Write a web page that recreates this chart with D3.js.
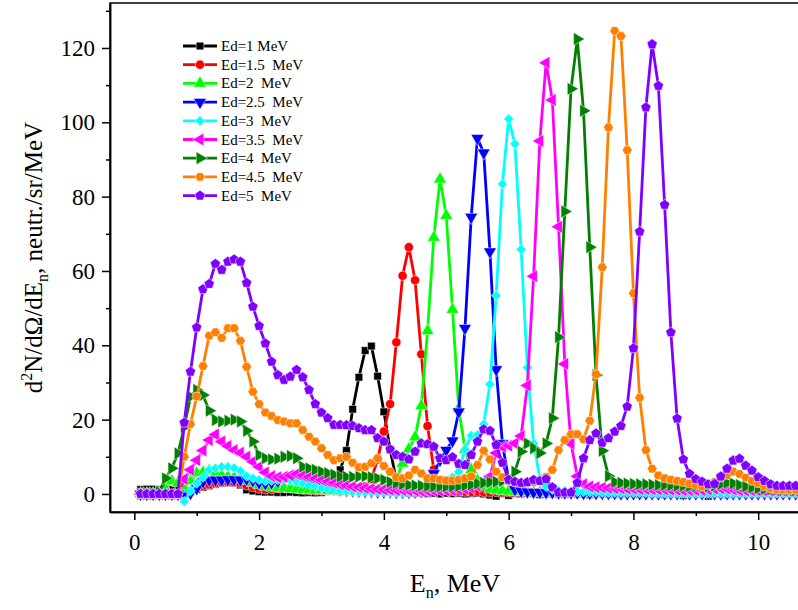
<!DOCTYPE html>
<html>
<head>
<meta charset="utf-8">
<script src="https://cdn.jsdelivr.net/npm/d3@7"></script>
<style>
  body { margin: 0; background: #fff; }
  text { font-family: "Liberation Serif", "Times New Roman", Times, serif; }
</style>
</head>
<body>
<div id="chart"></div>
<script>
// #########################################################
// DATA, neutron energy grid in MeV
// #########################################################
var energy = [0.1,0.2,0.3,0.4,0.5,0.6,0.7,0.8,0.9,1.0,
  1.1,1.2,1.3,1.4,1.5,1.6,1.7,1.8,1.9,2.0,
  2.1,2.2,2.3,2.4,2.5,2.6,2.7,2.8,2.9,3.0,
  3.1,3.2,3.3,3.4,3.5,3.6,3.7,3.8,3.9,4.0,
  4.1,4.2,4.3,4.4,4.5,4.6,4.7,4.8,4.9,5.0,
  5.1,5.2,5.3,5.4,5.5,5.6,5.7,5.8,5.9,6.0,
  6.1,6.2,6.3,6.4,6.5,6.6,6.7,6.8,6.9,7.0,
  7.1,7.2,7.3,7.4,7.5,7.6,7.7,7.8,7.9,8.0,
  8.1,8.2,8.3,8.4,8.5,8.6,8.7,8.8,8.9,9.0,
  9.1,9.2,9.3,9.4,9.5,9.6,9.7,9.8,9.9,10.0,
  10.1,10.2,10.3,10.4,10.5,10.6];

var ed1 = [1.2,1.3,1.3,1.2,1.3,1.2,1.3,0.2,0.6,1.2,
  1.8,2.2,2.6,2.9,3.0,3.0,2.4,1.1,0.8,0.6,
  0.5,0.5,0.4,0.4,0.5,0.4,0.3,0.4,0.3,0.4,
  0.8,2.5,6.5,11.7,22.8,31.4,38.6,39.8,31.7,22.1,
  12.0,3.6,0.8,0.3,0.2,0.3,0.1,0.2,0.0,0.2,
  0.1,0.2,0.0,0.1,0.2,0.0,-0.3,-0.6,0.1,-0.4,
  0.1,0.0,0.2,0.1,-0.2,0.0,0.1,0.0,-0.1,0.1,
  0.0,0.1,-0.2,0.0,0.1,0.0,-0.1,0.1,0.0,0.1,
  -0.1,0.0,0.2,0.0,-0.2,0.1,0.0,-0.4,0.0,0.1,
  0.0,-0.6,0.0,0.1,-0.2,0.0,0.1,0.0,-0.1,0.0,
  0.1,0.0,-0.1,0.0,0.1,0.0];

var ed15 = [0.0,0.0,0.0,0.0,0.0,0.0,0.0,-0.3,0.8,1.6,
  2.2,2.6,2.9,3.1,3.2,3.1,2.8,2.3,1.8,1.4,
  1.2,1.3,1.5,1.6,1.5,1.3,1.1,1.0,0.9,0.9,
  0.8,0.8,0.7,0.8,0.9,1.2,2.0,4.0,9.3,16.8,
  24.2,40.8,58.7,66.4,57.5,37.6,18.3,6.6,2.0,1.0,
  0.8,0.7,0.6,0.5,0.6,0.5,0.4,0.5,0.4,0.4,
  0.4,0.3,0.4,0.3,0.3,0.2,0.3,0.3,0.2,0.3,
  0.3,0.2,0.3,0.2,0.2,0.3,0.2,0.2,0.1,0.2,
  0.2,0.1,0.2,0.2,0.1,0.2,0.1,0.1,0.2,0.1,
  0.1,0.1,0.2,0.1,0.1,0.1,0.2,0.1,0.1,0.1,
  0.1,0.1,0.1,0.1,0.1,0.1];

var ed2 = [0.0,0.0,0.0,0.2,1.5,3.5,3.0,1.5,3.5,5.6,
  5.8,6.3,5.5,5.0,4.6,4.4,4.0,3.6,3.0,2.5,
  2.0,1.8,1.6,1.5,1.4,1.3,1.2,1.1,1.0,1.0,
  0.9,0.9,0.8,0.8,0.8,0.8,0.8,0.9,1.0,1.2,
  2.0,4.0,8.2,12.1,15.3,23.7,43.9,69.0,84.7,74.9,
  49.6,23.0,12.0,6.5,3.6,2.0,1.3,1.0,0.8,0.7,
  0.6,0.6,0.5,0.5,0.4,0.4,0.4,0.3,0.3,0.3,
  0.3,0.3,0.2,0.3,0.2,0.2,0.2,0.2,0.2,0.2,
  0.2,0.2,0.1,0.2,0.1,0.1,0.2,0.1,0.1,0.1,
  0.1,0.1,0.1,0.1,0.1,0.1,0.1,0.1,0.1,0.1,
  0.1,0.1,0.1,0.1,0.1,0.1];

var ed25 = [0.0,0.0,0.0,0.0,0.0,0.0,0.0,-0.5,0.2,1.5,
  3.3,3.8,3.8,3.8,3.9,3.9,3.8,4.0,3.6,3.0,
  2.8,3.0,3.5,4.2,4.8,5.0,4.5,3.6,2.8,2.2,
  1.8,1.5,1.2,1.0,0.9,0.8,0.7,0.7,0.6,0.6,
  0.6,0.5,0.5,0.5,0.6,0.7,1.0,5.5,9.1,11.8,
  14.3,22.1,44.6,74.5,95.7,91.8,65.2,33.5,13.6,3.8,
  1.2,0.8,0.6,0.5,0.5,0.4,0.4,0.3,0.3,0.3,
  0.3,0.2,0.2,0.2,0.2,0.2,0.2,0.1,0.1,0.1,
  0.1,0.1,0.1,0.1,0.1,0.1,0.1,0.1,0.1,0.1,
  0.1,0.1,0.1,0.1,0.1,0.1,0.1,0.1,0.1,0.1,
  0.1,0.1,0.1,0.1,0.1,0.1];

var ed3 = [0.0,0.0,0.0,0.0,0.0,0.0,0.0,-2.0,0.8,2.9,
  4.5,6.5,6.9,7.3,7.3,7.0,6.2,4.8,4.2,3.8,
  3.5,3.6,3.8,4.0,3.6,3.2,2.8,2.4,2.0,1.6,
  1.3,1.1,0.9,0.8,0.7,0.6,0.6,0.5,0.5,0.5,
  0.4,0.4,0.4,0.4,0.5,0.6,0.7,0.9,1.5,3.0,
  4.5,6.0,12.0,15.7,15.9,18.8,29.5,53.4,83.4,100.9,
  94.2,65.8,34.0,13.6,4.2,2.0,1.2,0.9,0.8,0.7,
  0.6,0.6,0.5,0.5,0.4,0.4,0.4,0.3,0.3,0.3,
  0.3,0.3,0.2,0.2,0.2,0.2,0.2,0.2,0.2,0.2,
  0.2,0.2,0.2,0.2,0.2,0.2,0.2,0.2,0.2,0.2,
  0.2,0.2,0.2,0.2,0.2,0.2];

var ed35 = [0.0,0.0,0.0,0.0,0.0,0.0,0.0,4.0,6.5,9.1,
  11.7,14.5,16.0,14.1,12.9,11.8,11.1,10.0,8.7,7.3,
  5.8,4.8,4.5,4.6,5.0,5.4,5.0,4.6,4.2,3.8,
  3.4,3.0,2.6,2.3,2.0,1.8,1.6,1.4,1.3,1.2,
  1.1,1.0,1.0,0.9,0.9,0.8,0.8,0.8,0.8,0.9,
  1.0,1.1,1.3,1.6,2.2,3.2,4.7,11.0,12.7,13.0,
  13.6,15.6,29.2,58.6,95.0,116.0,106.0,71.9,35.0,13.5,
  4.8,2.6,2.0,1.8,1.7,1.6,1.5,1.5,1.4,1.4,
  1.3,1.3,1.2,1.2,1.2,1.1,1.1,1.0,1.0,1.0,
  1.0,1.2,1.4,1.5,1.4,1.2,1.0,0.9,0.9,0.8,
  0.8,0.8,0.7,0.7,0.7,0.7];

var ed4 = [0.0,0.0,0.0,0.5,4.2,6.9,10.9,18.0,26.2,28.0,
  26.6,22.4,19.9,19.5,19.7,20.0,19.5,17.0,14.1,10.5,
  9.6,9.3,9.5,10.0,10.2,9.6,7.3,6.9,6.5,6.0,
  5.6,5.2,4.7,4.6,4.6,4.7,4.8,4.5,4.2,3.8,
  3.2,2.9,2.6,2.4,2.3,2.2,2.1,2.0,2.0,2.0,
  2.0,2.1,2.3,2.5,2.8,3.0,3.2,3.3,3.5,4.2,
  6.0,11.4,13.6,12.3,11.0,13.6,20.4,42.2,76.0,109.0,
  122.4,103.1,66.4,32.0,11.6,4.8,3.2,3.0,2.8,2.7,
  2.6,2.6,2.5,2.4,2.4,2.3,2.2,2.2,2.1,2.1,
  2.0,2.0,2.2,2.6,3.0,2.8,2.4,2.0,1.7,1.5,
  1.3,1.2,1.1,1.0,1.0,0.9];

var ed45 = [0.0,0.0,0.0,0.0,0.0,0.0,0.0,10.0,18.8,26.2,
  34.4,42.6,43.5,42.0,44.6,44.6,41.2,34.2,27.5,24.2,
  21.9,21.0,19.9,19.5,19.0,19.0,17.2,15.4,14.1,12.3,
  10.5,9.1,9.6,10.0,8.4,7.2,7.3,8.3,9.6,7.5,
  6.0,4.5,4.2,5.0,6.5,5.5,4.2,4.2,3.8,3.6,
  3.6,3.8,4.2,4.7,7.8,11.6,9.3,6.0,4.5,3.5,
  3.2,3.0,3.0,3.2,3.6,4.6,6.5,11.8,14.5,16.1,
  16.1,14.7,19.7,32.2,61.0,98.6,124.6,123.2,92.5,54.0,
  25.9,11.8,6.8,5.0,4.2,3.8,3.5,3.2,2.8,2.4,
  2.0,2.4,3.2,4.4,5.1,6.0,5.4,4.4,3.5,2.9,
  2.0,1.5,1.2,1.1,1.1,1.1];

var ed5 = [0.0,0.0,0.0,0.0,0.0,0.0,0.0,19.2,32.9,44.8,
  55.1,56.5,61.9,60.3,62.5,63.1,62.5,56.8,50.4,45.2,
  40.5,35.6,32.0,30.7,31.6,33.4,31.4,28.0,24.2,21.9,
  20.4,18.6,18.6,18.5,18.3,17.7,17.2,17.2,15.0,14.1,
  12.0,10.5,10.0,9.3,11.4,13.6,13.4,12.7,9.6,9.1,
  9.9,8.1,7.8,10.5,14.1,17.4,17.0,13.2,8.4,3.8,
  3.3,3.0,3.2,3.8,3.5,4.0,1.8,0.4,0.4,0.4,
  3.0,9.6,14.5,16.3,13.8,15.0,16.8,18.3,23.5,39.2,
  70.6,104.0,121.0,109.8,77.8,43.5,20.3,9.3,5.4,4.0,
  3.3,2.6,2.7,4.7,6.8,9.0,9.5,7.6,6.3,4.5,
  3.5,2.6,2.2,2.2,2.2,2.2];

var seriesLabels = ["Ed=1 MeV", "Ed=1.5  MeV", "Ed=2  MeV", "Ed=2.5  MeV", "Ed=3  MeV",
                    "Ed=3.5  MeV", "Ed=4  MeV", "Ed=4.5  MeV", "Ed=5  MeV"];
var seriesValues = [ed1, ed15, ed2, ed25, ed3, ed35, ed4, ed45, ed5];

var xTicks = [0, 2, 4, 6, 8, 10];
var xMinorTicks = [1, 3, 5, 7, 9];
var yTicks = [0, 20, 40, 60, 80, 100, 120];
var yMinorTicks = [10, 30, 50, 70, 90, 110, 130];

// styles: colour and marker kind per series
var colors = ["#000000", "#ff0000", "#00ff00", "#0000ff", "#00ffff",
              "#ff00ff", "#008000", "#ff8000", "#8000ff"];
var markers = ["square", "circle", "up", "down", "diamond", "left", "right", "hexagon", "pentagon"];

// #########################################################
// PART I. SVG CANVAS
// #########################################################
var W = 798, H = 610;
var plot = {left: 110, right: 800, top: 3, bottom: 512};
var serif = "'Liberation Serif', 'Times New Roman', Times, serif";

var svg = d3.select("#chart")
  .append("svg")
    .attr("width", W)
    .attr("height", H);

var xScale = d3.scaleLinear()
    .domain([-0.39, 10.67])
    .range([plot.left, plot.right]);

var yScale = d3.scaleLinear()
    .domain([-4.85, 132.1])
    .range([plot.bottom, plot.top]);

svg.append("defs").append("clipPath")
    .attr("id", "plotClip")
  .append("rect")
    .attr("x", plot.left)
    .attr("y", plot.top)
    .attr("width", plot.right - plot.left)
    .attr("height", plot.bottom - plot.top);

// #########################################################
// PART II. MARKERS
// #########################################################
function polygon(n, r, rot) {
  var pts = d3.range(n).map(function(i) {
    var a = rot + i * 2 * Math.PI / n;
    return [r * Math.cos(a), r * Math.sin(a)];
  });
  return "M" + pts.map(function(p) { return p[0].toFixed(2) + "," + p[1].toFixed(2); }).join("L") + "Z";
}

var triPath = d3.symbol().type(d3.symbolTriangle).size(72)();
var markerDefs = {
  square:   {d: d3.symbol().type(d3.symbolSquare).size(58)(), rot: 0},
  circle:   {d: d3.symbol().type(d3.symbolCircle).size(66)(), rot: 0},
  up:       {d: triPath, rot: 0},
  down:     {d: triPath, rot: 180},
  left:     {d: triPath, rot: -90},
  right:    {d: triPath, rot: 90},
  diamond:  {d: d3.symbol().type(d3.symbolSquare).size(50)(), rot: 45},
  hexagon:  {d: polygon(6, 4.9, 0), rot: 0},
  pentagon: {d: polygon(5, 5.4, -Math.PI / 2), rot: 0}
};

function drawMarker(g, kind, color, cx, cy) {
  var m = markerDefs[kind];
  g.append("path")
    .attr("d", m.d)
    .attr("transform", "translate(" + cx + "," + cy + ") rotate(" + m.rot + ")")
    .attr("fill", color)
    .attr("stroke", "#fff")
    .attr("stroke-width", 0.5);
}

// #########################################################
// PART III. SERIES
// #########################################################
var line = d3.line()
    .x(function(d) { return xScale(d[0]); })
    .y(function(d) { return yScale(d[1]); });

var plotArea = svg.append("g").attr("clip-path", "url(#plotClip)");

seriesValues.forEach(function(vals, i) {
  var pts = energy.map(function(e, k) { return [e, vals[k]]; });
  var g = plotArea.append("g");
  g.append("path")
    .datum(pts)
    .attr("d", line)
    .attr("fill", "none")
    .attr("stroke", colors[i])
    .attr("stroke-width", 2.8)
    .attr("stroke-linejoin", "round");
  pts.forEach(function(p) {
    drawMarker(g, markers[i], colors[i], xScale(p[0]), yScale(p[1]));
  });
});

// #########################################################
// PART IV. AXES AND FRAME
// #########################################################
svg.append("rect")
    .attr("x", plot.left)
    .attr("y", plot.top)
    .attr("width", plot.right - plot.left)
    .attr("height", plot.bottom - plot.top)
    .attr("fill", "none")
    .attr("stroke", "#000")
    .attr("stroke-width", 1.5);

svg.append("g")
    .attr("transform", "translate(0," + plot.bottom + ")")
    .call(d3.axisBottom(xScale).tickValues(xTicks).tickSize(8).tickSizeOuter(0).tickPadding(14));
svg.append("g")
    .attr("transform", "translate(0," + plot.bottom + ")")
    .call(d3.axisBottom(xScale).tickValues(xMinorTicks).tickSize(4).tickSizeOuter(0).tickFormat(""));

svg.append("g")
    .attr("transform", "translate(" + plot.left + ",0)")
    .call(d3.axisLeft(yScale).tickValues(yTicks).tickSize(8).tickSizeOuter(0).tickPadding(7));
svg.append("g")
    .attr("transform", "translate(" + plot.left + ",0)")
    .call(d3.axisLeft(yScale).tickValues(yMinorTicks).tickSize(4).tickSizeOuter(0).tickFormat(""));

svg.selectAll(".domain").attr("stroke-width", 1.5);
svg.selectAll(".tick line").attr("stroke-width", 1.5);
svg.selectAll(".tick text")
    .attr("font-family", serif)
    .style("font-family", serif)
    .style("font-size", "23px")
    .attr("fill", "#000");

// axis titles
var xTitle = svg.append("text")
    .attr("x", 455)
    .attr("y", 592)
    .attr("text-anchor", "middle")
    .style("font-family", serif)
    .style("font-size", "26px");
xTitle.append("tspan").text("E");
xTitle.append("tspan").attr("dy", 6).style("font-size", "16px").text("n");
xTitle.append("tspan").attr("dy", -6).text(", MeV");

var yTitle = svg.append("text")
    .attr("transform", "translate(42," + ((plot.top + plot.bottom) / 2) + ") rotate(-90)")
    .attr("text-anchor", "middle")
    .style("font-family", serif)
    .style("font-size", "25px");
yTitle.append("tspan").text("d");
yTitle.append("tspan").attr("dy", -10).style("font-size", "16px").text("2");
yTitle.append("tspan").attr("dy", 10).text("N/d\u03A9/dE");
yTitle.append("tspan").attr("dy", 6).style("font-size", "16px").text("n");
yTitle.append("tspan").attr("dy", -6).text(", neutr./sr/MeV");

// #########################################################
// PART V. LEGEND
// #########################################################
var legend = svg.append("g").attr("transform", "translate(183,46)");
seriesLabels.forEach(function(lab, i) {
  var row = legend.append("g").attr("transform", "translate(0," + (i * 18.7) + ")");
  row.append("line")
    .attr("x1", 0).attr("x2", 34)
    .attr("y1", 0).attr("y2", 0)
    .attr("stroke", colors[i])
    .attr("stroke-width", 2.8);
  drawMarker(row, markers[i], colors[i], 17, 0);
  row.append("text")
    .attr("x", 38)
    .attr("y", 5)
    .style("font-family", serif)
    .style("font-size", "15px")
    .style("white-space", "pre")
    .text(lab);
});
</script>
</body>
</html>
